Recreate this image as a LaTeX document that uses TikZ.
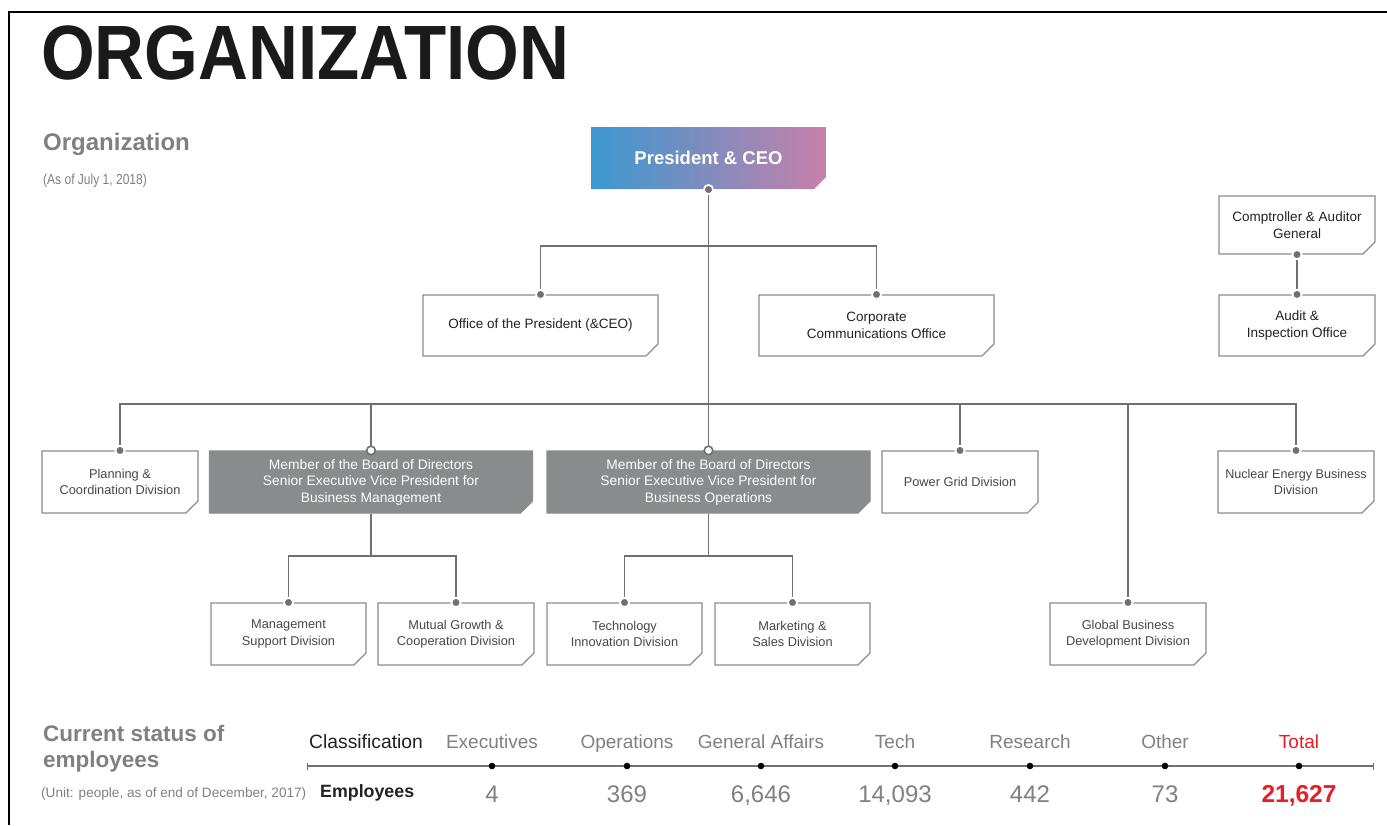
\documentclass[tikz,border=0pt]{standalone}
\usepackage{fontspec}
\usepackage{graphicx}
\setmainfont{Liberation Sans}
\usetikzlibrary{shapes.misc}
\definecolor{linegray}{RGB}{112,112,112}
\definecolor{bordergray}{RGB}{140,140,140}
\definecolor{boxfill}{RGB}{137,139,140}
\definecolor{toptext}{RGB}{34,34,34}
\definecolor{divtext}{RGB}{72,72,72}
\definecolor{headgray}{RGB}{128,128,128}
\definecolor{valgray}{RGB}{128,128,128}
\definecolor{titleblack}{RGB}{26,26,26}
\definecolor{cblue}{RGB}{58,152,208}
\definecolor{cpink}{RGB}{200,128,170}
\definecolor{totalred}{RGB}{232,28,36}
\tikzset{
  chbox/.style={chamfered rectangle, chamfered rectangle corners=south east,
    chamfered rectangle xsep=6pt, chamfered rectangle ysep=6pt,
    inner sep=0pt, align=center, line width=1.1pt,
    font=\fontsize{12.8}{16.5}\selectfont},
  wbox/.style={chbox, draw=bordergray, fill=white, text=divtext},
  tbox/.style={wbox, text=toptext, font=\fontsize{13.5}{16.5}\selectfont},
  gbox/.style={chbox, fill=boxfill, draw=boxfill, text=white, minimum width=323pt, minimum height=62pt, font=\fontsize{13.8}{16.5}\selectfont},
  conn/.style={draw=linegray, line width=1.2pt},
  gdot/.style={fill=linegray, draw=white, line width=1.8pt},
  wdot/.style={fill=white, draw=linegray, line width=1.6pt},
  colhead/.style={anchor=base, inner sep=0pt, font=\fontsize{19}{19}\selectfont, text=headgray},
  colval/.style={anchor=base, inner sep=0pt, font=\fontsize{24}{24}\selectfont, text=valgray},
}
\begin{document}
\begin{tikzpicture}[x=1pt,y=-1pt]
\useasboundingbox (0,0) rectangle (1387,825);
% frame
\coordinate (fbl) at (9,825);
\coordinate (ftl) at (9,12);
\coordinate (ftr) at (1387,12);
\draw[black, line width=1.6pt] (fbl) -- (ftl) -- (ftr);

% titles
\node[anchor=base west, inner sep=0pt, font=\fontsize{77}{77}\selectfont\bfseries, text=titleblack] (title) at (41,79) {\scalebox{0.897}[1]{ORGANIZATION}};
\node[anchor=base west, inner sep=0pt, font=\fontsize{24}{24}\selectfont\bfseries, text=headgray] (org) at (43,150) {Organization};
\node[anchor=base west, inner sep=0pt, font=\fontsize{14.5}{14.5}\selectfont, text=headgray] (asof) at (43,184) {\scalebox{0.83}[1]{(As of July 1, 2018)}};

% org boxes
\node[chbox, left color=cblue, right color=cpink, text=white, minimum width=235pt, minimum height=62pt, font=\fontsize{18.5}{18.5}\selectfont\bfseries] (P) at (708.5,158) {President \& CEO};
\node[tbox, minimum width=235pt, minimum height=61pt] (OP) at (540.5,325.5) {Office of the President (\&CEO)};
\node[tbox, minimum width=235pt, minimum height=61pt] (CC) at (876.5,325.5) {Corporate\\Communications Office};
\node[tbox, minimum width=156pt, minimum height=58pt] (CA) at (1297,225) {Comptroller \& Auditor\\General};
\node[tbox, minimum width=156pt, minimum height=61pt] (AI) at (1297,325.5) {Audit \&\\Inspection Office};

\node[wbox, minimum width=156pt, minimum height=62pt] (PL) at (120,482) {Planning \&\\Coordination Division};
\node[gbox] (BM) at (371,482) {Member of the Board of Directors\\Senior Executive Vice President for\\Business Management};
\node[gbox] (BO) at (708.5,482) {Member of the Board of Directors\\Senior Executive Vice President for\\Business Operations};
\node[wbox, minimum width=156pt, minimum height=62pt] (PG) at (960,482) {Power Grid Division};
\node[wbox, minimum width=156pt, minimum height=62pt, font=\fontsize{12.6}{16.5}\selectfont] (NE) at (1296,482) {Nuclear Energy Business\\Division};

\node[wbox, minimum width=155pt, minimum height=62pt] (MS) at (288.5,634) {Management\\Support Division};
\node[wbox, minimum width=156pt, minimum height=62pt] (MG) at (456,634) {Mutual Growth \&\\Cooperation Division};
\node[wbox, minimum width=155pt, minimum height=62pt] (TI) at (624.5,634) {Technology\\Innovation Division};
\node[wbox, minimum width=155pt, minimum height=62pt] (MK) at (792.5,634) {Marketing \&\\Sales Division};
\node[wbox, minimum width=156pt, minimum height=62pt] (GB) at (1128,634) {Global Business\\Development Division};

% connectors
\coordinate (obus) at (708.5,246);
\coordinate (bus) at (708.5,404);
\coordinate (bmbus) at (371,556);
\coordinate (bobus) at (708.5,556);
\path[conn] (P.south) -- (BO.north);
\path[conn] (OP.north) |- (obus) -| (CC.north);
\path[conn] (PL.north) |- (bus) -| (NE.north);
\path[conn] (BM.north) -- (BM.north |- bus);
\path[conn] (PG.north) -- (PG.north |- bus);
\path[conn] (GB.north) -- (GB.north |- bus);
\path[conn] (CA.south) -- (AI.north);
\path[conn] (BM.south) -- (bmbus);
\path[conn] (MS.north) |- (bmbus) -| (MG.north);
\path[conn] (BO.south) -- (bobus);
\path[conn] (TI.north) |- (bobus) -| (MK.north);

% dots
\foreach \n in {OP,CC,AI,PL,PG,NE,MS,MG,TI,MK,GB}{
  \path[gdot] (\n.north) circle[radius=4.6pt];
}
\path[gdot] (P.south) circle[radius=4.6pt];
\path[gdot] (CA.south) circle[radius=4.6pt];
\path[wdot] (BM.north) circle[radius=4.3pt];
\path[wdot] (BO.north) circle[radius=4.3pt];

% employees section
\node[anchor=base west, inner sep=0pt, font=\fontsize{22.5}{22.5}\selectfont\bfseries, text=headgray] (cs1) at (43,741) {Current status of};
\node[anchor=base west, inner sep=0pt, font=\fontsize{22.5}{22.5}\selectfont\bfseries, text=headgray] (cs2) at (43,767) {employees};
\node[anchor=base west, inner sep=0pt, font=\fontsize{13.6}{13.6}\selectfont, text=headgray] (unit) at (41,797) {(Unit: people, as of end of December, 2017)};

\node[anchor=base west, inner sep=0pt, font=\fontsize{19.3}{19.3}\selectfont, text=toptext] (cls) at (309,748) {Classification};
\node[anchor=base west, inner sep=0pt, font=\fontsize{17.8}{17.8}\selectfont\bfseries, text=toptext] (emp) at (320,797) {Employees};

\coordinate (tl) at (307,766);
\coordinate (tr) at (1373,766);
\draw[linegray, line width=1.3pt] (tl) -- (tr);
\draw[linegray, line width=1pt] ([yshift=-3.5pt]tl) -- ([yshift=3.5pt]tl);
\draw[linegray, line width=1pt] ([yshift=-3.5pt]tr) -- ([yshift=3.5pt]tr);

\node[colhead] (h1) at (492,748) {Executives};
\node[colhead] (h2) at (627,748) {Operations};
\node[colhead] (h3) at (761,748) {General Affairs};
\node[colhead] (h4) at (895,748) {Tech};
\node[colhead] (h5) at (1030,748) {Research};
\node[colhead] (h6) at (1165,748) {Other};
\node[colhead, text=totalred] (h7) at (1299,748) {Total};

\foreach \x in {492,627,761,895,1030,1165,1299}{
  \fill[black] (\x,766) circle[radius=3.3pt];
}

\node[colval] (v1) at (492,802) {4};
\node[colval] (v2) at (627,802) {369};
\node[colval] (v3) at (761,802) {6,646};
\node[colval] (v4) at (895,802) {14,093};
\node[colval] (v5) at (1030,802) {442};
\node[colval] (v6) at (1165,802) {73};
\node[colval, text=totalred, font=\fontsize{24.5}{24.5}\selectfont\bfseries] (v7) at (1299,802) {21,627};
\end{tikzpicture}
\end{document}
